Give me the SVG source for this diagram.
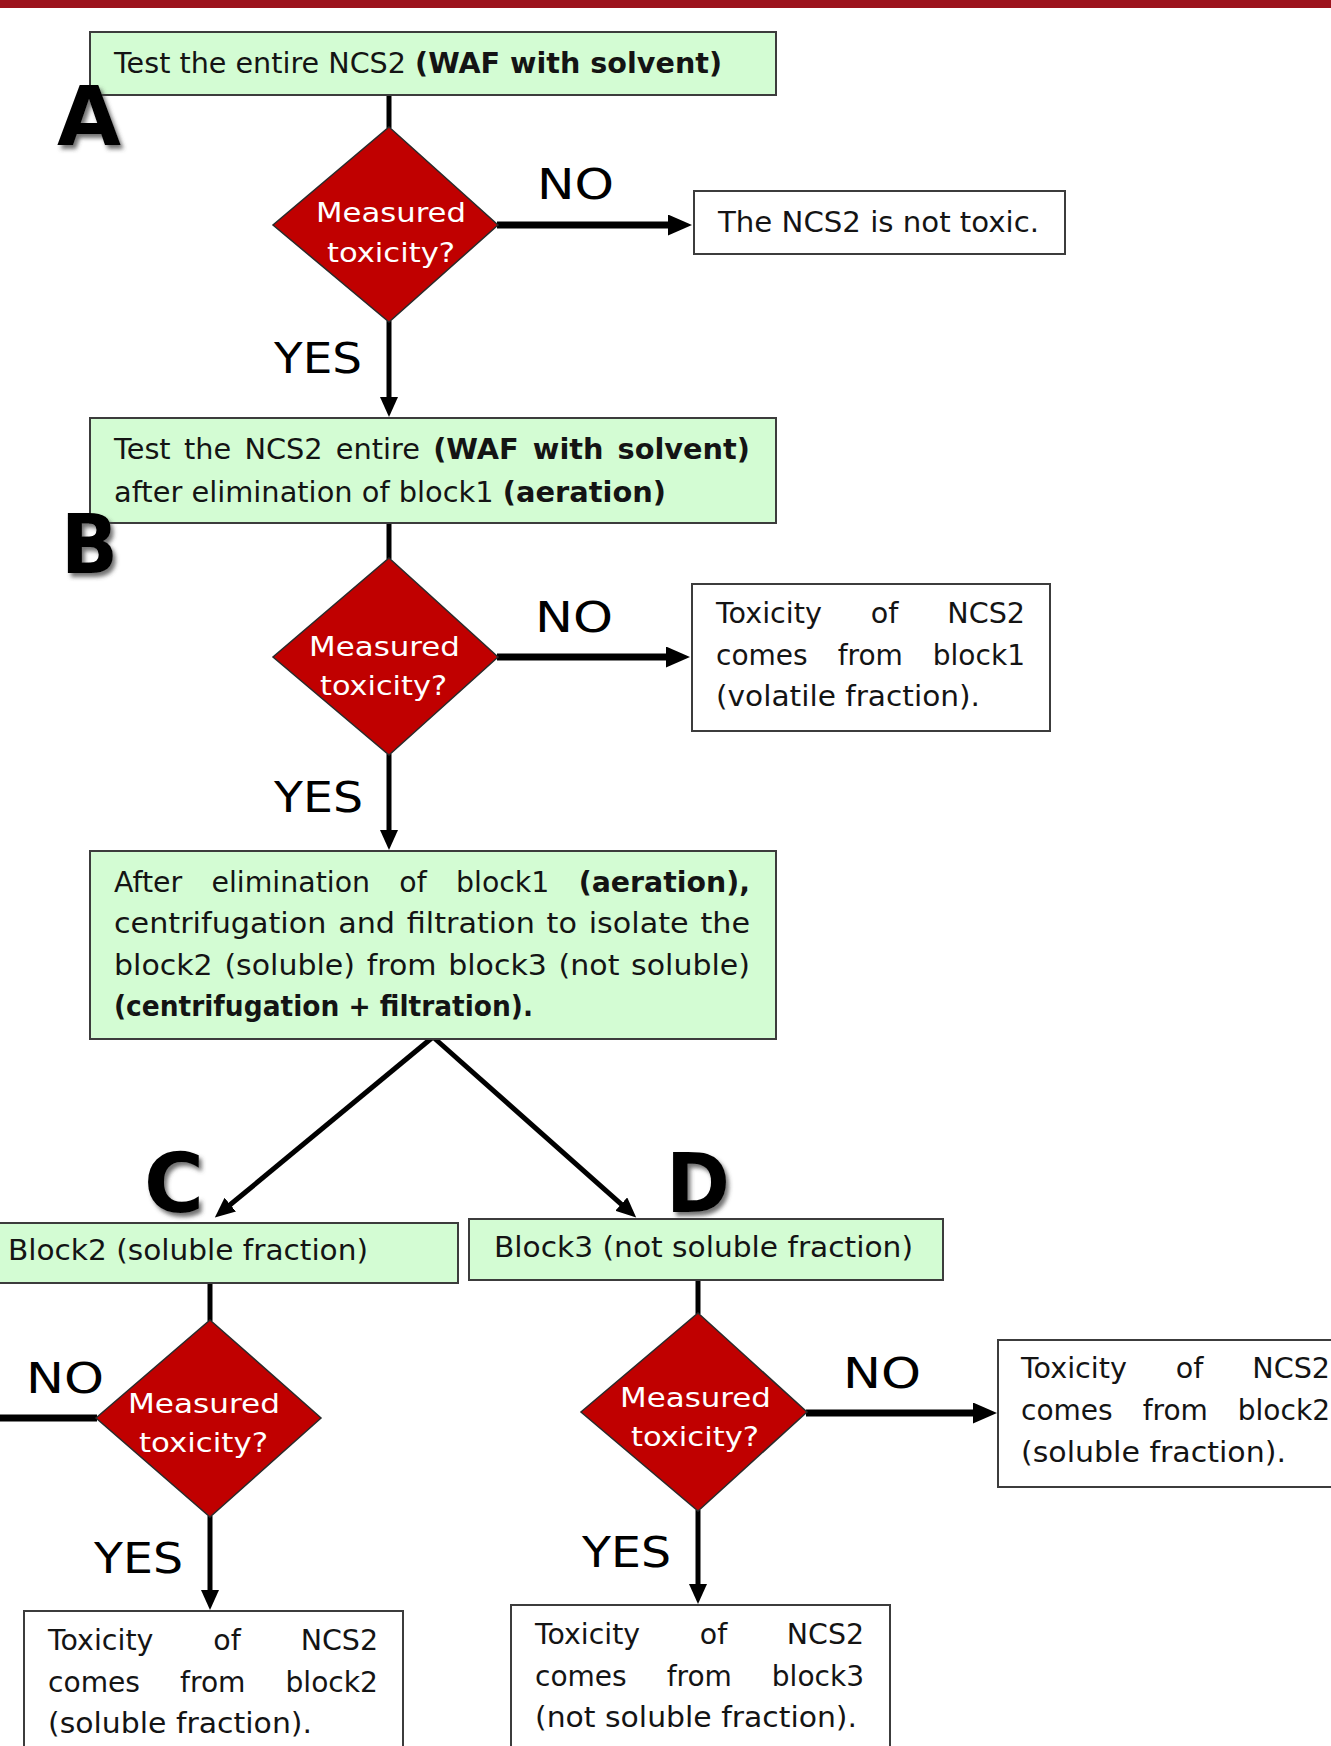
<svg xmlns="http://www.w3.org/2000/svg" width="1331" height="1746" viewBox="0 0 1331 1746">
<style>
.box{stroke:#3c3c3c;stroke-width:2}
.green{fill:#d3fcd3}
.white{fill:#ffffff}
.dia{fill:#c00000;stroke:#2a2a2a;stroke-width:1.5}
.t{font-family:"DejaVu Sans",sans-serif;font-size:28px;fill:#141414}
.b{font-weight:bold}
.dt{font-family:"DejaVu Sans",sans-serif;font-size:26px;fill:#ffffff}
.lbl{font-family:"DejaVu Sans",sans-serif;font-size:43px;fill:#000}
.big{font-family:"DejaVu Sans",sans-serif;font-size:82px;font-weight:bold;fill:#000}
.c{stroke:#000;fill:none}
.v{stroke-width:5}
.h{stroke-width:7}
.d{stroke-width:5}
</style>
<defs>
<marker id="av" markerUnits="userSpaceOnUse" markerWidth="22" markerHeight="20" refX="1" refY="9" orient="auto"><path d="M0,0 L20,9 L0,18 Z" fill="#000"/></marker>
<marker id="ah" markerUnits="userSpaceOnUse" markerWidth="26" markerHeight="22" refX="1" refY="10.5" orient="auto"><path d="M0,0 L24,10.5 L0,21 Z" fill="#000"/></marker>
<filter id="sh" x="-20%" y="-20%" width="150%" height="150%"><feDropShadow dx="3" dy="4" stdDeviation="2" flood-color="#444" flood-opacity="0.75"/></filter>
</defs>
<rect x="0" y="0" width="1331" height="1746" fill="#ffffff"/>
<rect x="0" y="0" width="1331" height="8" fill="#9c131d"/>

<g id="connectors">
<line class="c v" x1="389" y1="95" x2="389" y2="128"/>
<line class="c v" x1="389" y1="321" x2="389" y2="398" marker-end="url(#av)"/>
<line class="c h" x1="497" y1="225" x2="669" y2="225" marker-end="url(#ah)"/>
<line class="c v" x1="389" y1="523" x2="389" y2="559"/>
<line class="c v" x1="389" y1="754" x2="389" y2="831" marker-end="url(#av)"/>
<line class="c h" x1="497" y1="657" x2="667" y2="657" marker-end="url(#ah)"/>
<line class="c d" x1="433" y1="1037" x2="229.5" y2="1205.3" marker-end="url(#av)"/>
<line class="c d" x1="433" y1="1037" x2="622" y2="1204.8" marker-end="url(#av)"/>
<line class="c v" x1="210" y1="1283" x2="210" y2="1321"/>
<line class="c v" x1="210" y1="1516" x2="210" y2="1591" marker-end="url(#av)"/>
<line class="c h" x1="-10" y1="1418" x2="97" y2="1418"/>
<line class="c v" x1="698" y1="1280" x2="698" y2="1314"/>
<line class="c v" x1="698" y1="1510" x2="698" y2="1585" marker-end="url(#av)"/>
<line class="c h" x1="806" y1="1413" x2="974" y2="1413" marker-end="url(#ah)"/>
</g>

<g id="boxA">
<rect class="box green" x="90" y="32" width="686" height="63"/>
<text class="t" x="114" y="73" textLength="608" lengthAdjust="spacingAndGlyphs">Test the entire NCS2 <tspan class="b">(WAF with solvent)</tspan></text>
</g>
<g id="labelA"><text class="big" x="57" y="145" textLength="64" lengthAdjust="spacingAndGlyphs" filter="url(#sh)">A</text></g>

<g id="decisionA">
<polygon class="dia" points="389,127 498,225 389,322 273,225"/>
<text class="dt" x="316" y="222" textLength="150" lengthAdjust="spacingAndGlyphs">Measured</text>
<text class="dt" x="327" y="262" textLength="128" lengthAdjust="spacingAndGlyphs">toxicity?</text>
</g>
<g id="noA"><text class="lbl" x="537" y="199" textLength="77" lengthAdjust="spacingAndGlyphs">NO</text></g>
<g id="yesA"><text class="lbl" x="274" y="373" textLength="88" lengthAdjust="spacingAndGlyphs">YES</text></g>

<g id="notToxic">
<rect class="box white" x="694" y="191" width="371" height="63"/>
<text class="t" x="718" y="232" textLength="321" lengthAdjust="spacingAndGlyphs">The NCS2 is not toxic.</text>
</g>

<g id="boxB">
<rect class="box green" x="90" y="418" width="686" height="105"/>
<text class="t" x="114" y="459" word-spacing="4" textLength="636" lengthAdjust="spacingAndGlyphs">Test the NCS2 entire <tspan class="b">(WAF with solvent)</tspan></text>
<text class="t" x="114" y="502" textLength="552" lengthAdjust="spacingAndGlyphs">after elimination of block1 <tspan class="b">(aeration)</tspan></text>
</g>
<g id="labelB"><text class="big" x="61" y="573" textLength="57" lengthAdjust="spacingAndGlyphs" filter="url(#sh)">B</text></g>

<g id="decisionB">
<polygon class="dia" points="389,558 498,657 389,755 273,657"/>
<text class="dt" x="309" y="656" textLength="151" lengthAdjust="spacingAndGlyphs">Measured</text>
<text class="dt" x="320" y="695" textLength="127" lengthAdjust="spacingAndGlyphs">toxicity?</text>
</g>
<g id="noB"><text class="lbl" x="535" y="632" textLength="78" lengthAdjust="spacingAndGlyphs">NO</text></g>
<g id="yesB"><text class="lbl" x="274" y="812" textLength="89" lengthAdjust="spacingAndGlyphs">YES</text></g>

<g id="block1Result">
<rect class="box white" x="692" y="584" width="358" height="147"/>
<text class="t" x="716" y="623" word-spacing="39" textLength="309" lengthAdjust="spacingAndGlyphs">Toxicity of NCS2</text>
<text class="t" x="716" y="665" word-spacing="21" textLength="309" lengthAdjust="spacingAndGlyphs">comes from block1</text>
<text class="t" x="716" y="706" textLength="264" lengthAdjust="spacingAndGlyphs">(volatile fraction).</text>
</g>

<g id="boxSeparation">
<rect class="box green" x="90" y="851" width="686" height="188"/>
<text class="t" x="114" y="892" word-spacing="20" textLength="636" lengthAdjust="spacingAndGlyphs">After elimination of block1 <tspan class="b">(aeration),</tspan></text>
<text class="t" x="114" y="933" word-spacing="2" textLength="636" lengthAdjust="spacingAndGlyphs">centrifugation and filtration to isolate the</text>
<text class="t" x="114" y="975" word-spacing="2" textLength="636" lengthAdjust="spacingAndGlyphs">block2 (soluble) from block3 (not soluble)</text>
<text class="t b" x="114" y="1016" textLength="419" lengthAdjust="spacingAndGlyphs">(centrifugation + filtration).</text>
</g>

<g id="labelC"><text class="big" x="144" y="1212" textLength="60" lengthAdjust="spacingAndGlyphs" filter="url(#sh)">C</text></g>
<g id="labelD"><text class="big" x="666" y="1212" textLength="64" lengthAdjust="spacingAndGlyphs" filter="url(#sh)">D</text></g>

<g id="block2">
<rect class="box green" x="-2" y="1223" width="460" height="60"/>
<text class="t" x="8" y="1260" textLength="360" lengthAdjust="spacingAndGlyphs">Block2 (soluble fraction)</text>
</g>
<g id="block3">
<rect class="box green" x="469" y="1219" width="474" height="61"/>
<text class="t" x="494" y="1257" textLength="419" lengthAdjust="spacingAndGlyphs">Block3 (not soluble fraction)</text>
</g>

<g id="decisionC">
<polygon class="dia" points="210,1320 321,1418 210,1517 96,1418"/>
<text class="dt" x="128" y="1413" textLength="152" lengthAdjust="spacingAndGlyphs">Measured</text>
<text class="dt" x="139" y="1452" textLength="129" lengthAdjust="spacingAndGlyphs">toxicity?</text>
</g>
<g id="noC"><text class="lbl" x="26" y="1393" textLength="78" lengthAdjust="spacingAndGlyphs">NO</text></g>
<g id="yesC"><text class="lbl" x="94" y="1573" textLength="89" lengthAdjust="spacingAndGlyphs">YES</text></g>

<g id="decisionD">
<polygon class="dia" points="698,1313 807,1412 698,1511 581,1412"/>
<text class="dt" x="620" y="1407" textLength="151" lengthAdjust="spacingAndGlyphs">Measured</text>
<text class="dt" x="631" y="1446" textLength="128" lengthAdjust="spacingAndGlyphs">toxicity?</text>
</g>
<g id="noD"><text class="lbl" x="843" y="1388" textLength="78" lengthAdjust="spacingAndGlyphs">NO</text></g>
<g id="yesD"><text class="lbl" x="582" y="1567" textLength="89" lengthAdjust="spacingAndGlyphs">YES</text></g>

<g id="block2ResultRight">
<rect class="box white" x="998" y="1340" width="358" height="147"/>
<text class="t" x="1021" y="1378" word-spacing="39" textLength="309" lengthAdjust="spacingAndGlyphs">Toxicity of NCS2</text>
<text class="t" x="1021" y="1420" word-spacing="21" textLength="309" lengthAdjust="spacingAndGlyphs">comes from block2</text>
<text class="t" x="1021" y="1462" textLength="265" lengthAdjust="spacingAndGlyphs">(soluble fraction).</text>
</g>

<g id="block2ResultLeft">
<rect class="box white" x="24" y="1611" width="379" height="150"/>
<text class="t" x="48" y="1650" word-spacing="50" textLength="330" lengthAdjust="spacingAndGlyphs">Toxicity of NCS2</text>
<text class="t" x="48" y="1692" word-spacing="31" textLength="330" lengthAdjust="spacingAndGlyphs">comes from block2</text>
<text class="t" x="48" y="1733" textLength="264" lengthAdjust="spacingAndGlyphs">(soluble fraction).</text>
</g>

<g id="block3Result">
<rect class="box white" x="511" y="1605" width="379" height="156"/>
<text class="t" x="535" y="1644" word-spacing="50" textLength="329" lengthAdjust="spacingAndGlyphs">Toxicity of NCS2</text>
<text class="t" x="535" y="1686" word-spacing="31" textLength="329" lengthAdjust="spacingAndGlyphs">comes from block3</text>
<text class="t" x="535" y="1727" textLength="322" lengthAdjust="spacingAndGlyphs">(not soluble fraction).</text>
</g>
</svg>
